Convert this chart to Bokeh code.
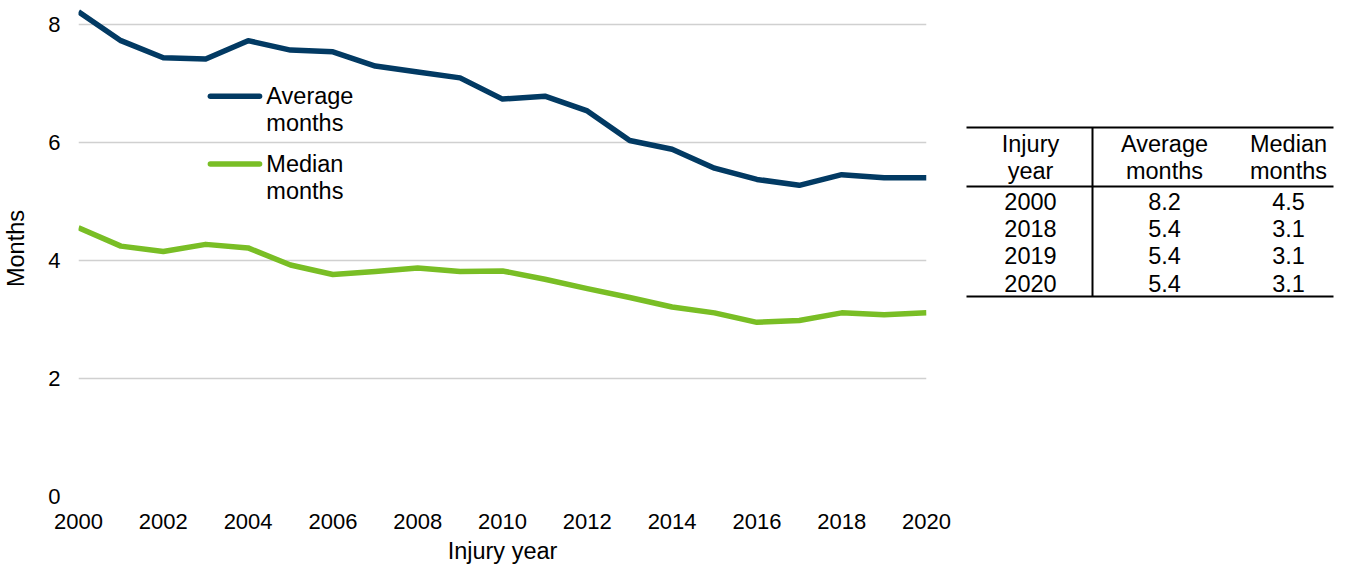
from bokeh.plotting import figure
from bokeh.models import Range1d, FixedTicker, Label
from bokeh.layouts import row
from bokeh.embed import file_html
from bokeh.resources import INLINE
from bokeh.core.properties import value

# ---- data ----
years = list(range(2000, 2021))
average_months = [8.21, 7.72, 7.43, 7.41, 7.72, 7.56, 7.53, 7.29, 7.19, 7.09,
                  6.73, 6.78, 6.53, 6.03, 5.88, 5.56, 5.37, 5.27, 5.45, 5.40, 5.40]
median_months = [4.55, 4.24, 4.15, 4.27, 4.21, 3.92, 3.76, 3.81, 3.87, 3.81,
                  3.82, 3.68, 3.52, 3.37, 3.21, 3.11, 2.95, 2.98, 3.11, 3.08, 3.11]
x_ticks = [2000, 2002, 2004, 2006, 2008, 2010, 2012, 2014, 2016, 2018, 2020]
y_ticks = [0, 2, 4, 6, 8]

table_header = [["Injury", "year"], ["Average", "months"], ["Median", "months"]]
table_years = ["2000", "2018", "2019", "2020"]
table_average = ["8.2", "5.4", "5.4", "5.4"]
table_median = ["4.5", "3.1", "3.1", "3.1"]

NAVY = "#023A63"
GREEN = "#79BE25"
FONT = "Liberation Sans"

# ---- main chart ----
p = figure(frame_width=848, frame_height=496, output_backend="svg", toolbar_location=None,
           x_range=Range1d(2000, 2020), y_range=Range1d(0, 8.4),
           min_border_left=77, min_border_right=25, min_border_top=0,
           min_border_bottom=66)
p.outline_line_color = None
p.background_fill_color = "white"
p.xgrid.grid_line_color = None
p.ygrid.grid_line_color = "#d0d0d0"
p.ygrid.grid_line_width = 1.3

p.xaxis.ticker = FixedTicker(ticks=x_ticks)
p.yaxis.ticker = FixedTicker(ticks=y_ticks)
for ax in (p.xaxis, p.yaxis):
    ax.axis_line_color = None
    ax.major_tick_line_color = None
    ax.minor_tick_line_color = None
    ax.major_tick_out = 0
    ax.major_tick_in = 0
    ax.minor_tick_out = 0
    ax.minor_tick_in = 0
    ax.major_label_text_font = FONT
    ax.major_label_text_font_size = "22px"
    ax.major_label_text_color = "black"
    ax.axis_label_text_font = FONT
    ax.axis_label_text_font_size = "23.5px"
    ax.axis_label_text_font_style = "normal"
    ax.axis_label_text_color = "black"
p.xaxis.axis_label = "Injury year"
p.yaxis.axis_label = "Months"
p.xaxis.major_label_standoff = 17
p.xaxis.axis_label_standoff = 6
p.yaxis.major_label_standoff = 18
p.yaxis.axis_label_standoff = 16

p.line(years, average_months, color=NAVY, line_width=5.5, line_join="round")
p.line(years, median_months, color=GREEN, line_width=5.5, line_join="round")

# manual legend (positions in data space)
leg_x0, leg_x1, leg_tx = 2003.11, 2004.27, 2004.43
leg_entries = [(6.78, NAVY, "Average"), (5.63, GREEN, "Median")]
line_gap = 0.46
for ly, col, name in leg_entries:
    p.line([leg_x0, leg_x1], [ly, ly], color=col, line_width=5.5, line_cap="round")
    for k, t in enumerate([name, "months"]):
        p.add_layout(Label(x=leg_tx, y=ly - k * line_gap, text=t,
                           text_font=FONT, text_font_size="23.5px",
                           text_baseline="middle", text_align="left",
                           text_color="black"))

# ---- table ----
t = figure(frame_width=398, frame_height=496, output_backend="svg", toolbar_location=None,
           x_range=Range1d(0, 398), y_range=Range1d(496, 0),
           min_border=0, min_border_left=0, min_border_right=0,
           min_border_top=0, min_border_bottom=0)
t.axis.visible = False
t.grid.visible = False
t.outline_line_color = None

col_x = [79, 213, 337]
head_y = [143, 170]
row_y0, row_h = 201, 27.2
tf = dict(text_font=value(FONT), text_font_size="23.5px", text_align="center",
          text_baseline="middle", text_color="black")
for ci, hdr in enumerate(table_header):
    t.text(x=[col_x[ci]] * 2, y=head_y, text=hdr, **tf)
rows_y = [row_y0 + i * row_h for i in range(len(table_years))]
for ci, colvals in enumerate([table_years, table_average, table_median]):
    t.text(x=[col_x[ci]] * len(colvals), y=rows_y, text=colvals, **tf)

t.segment(x0=[15, 15, 15, 141], y0=[127, 186, 296, 127],
          x1=[382, 382, 382, 141], y1=[127, 186, 296, 296],
          color="black", line_width=2)

layout = row(p, t)
open("out.html", "w").write(file_html(layout, INLINE))
